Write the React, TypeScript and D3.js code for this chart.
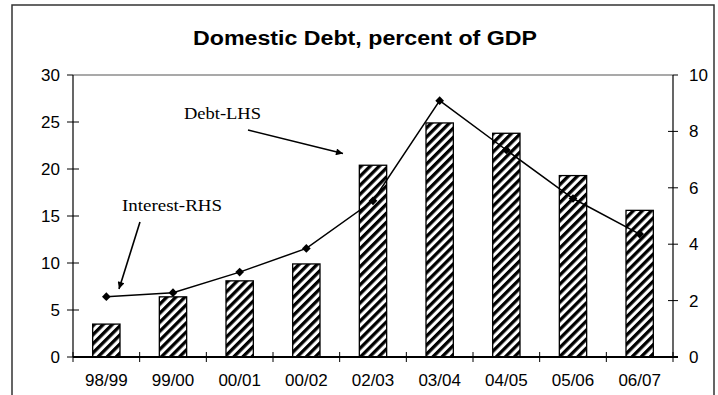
import React from 'react';
import * as d3 from 'd3';

const categories = ['98/99', '99/00', '00/01', '00/02', '02/03', '03/04', '04/05', '05/06', '06/07'];
const debtLHS = [3.5, 6.4, 8.1, 9.9, 20.4, 24.9, 23.8, 19.3, 15.6];
const interestRHS = [2.14, 2.28, 3.01, 3.85, 5.54, 9.09, 7.34, 5.62, 4.36];
const leftTicks = [0, 5, 10, 15, 20, 25, 30];
const rightTicks = [0, 2, 4, 6, 8, 10];
const title = 'Domestic Debt, percent of GDP';
const debtLabel = 'Debt-LHS';
const interestLabel = 'Interest-RHS';

const W = 718;
const H = 395;
const L = 73;
const R = 673;
const T = 75;
const B = 357;

export default function App() {
  const x = d3.scaleBand<string>().domain(categories).range([L, R]).padding(0);
  const yL = d3.scaleLinear().domain([0, 30]).range([B, T]);
  const yR = d3.scaleLinear().domain([0, 10]).range([B, T]);
  const barW = x.bandwidth() * 0.41;
  const cx = (c: string) => (x(c) as number) + x.bandwidth() / 2;

  const line = d3
    .line<number>()
    .x((_, i) => cx(categories[i]))
    .y((d) => yR(d));
  const marker = d3.symbol().type(d3.symbolSquare).size(38)() as string;

  const boundaries = categories.map((c) => x(c) as number).concat([R]);

  return (
    <svg
      width={W}
      height={H}
      style={{ position: 'absolute', left: 0, top: 0, background: '#fff' }}
      fontFamily="Liberation Sans, Arial, sans-serif"
    >
      <defs>
        <pattern
          id="hatch"
          patternUnits="userSpaceOnUse"
          width={6.4}
          height={6.4}
          patternTransform="rotate(45)"
        >
          <rect x={0} y={0} width={6.4} height={6.4} fill="#fff" />
          <rect x={0} y={0} width={3.3} height={6.4} fill="#000" />
        </pattern>
        <marker
          id="arrow"
          viewBox="0 0 10 10"
          refX={10}
          refY={5}
          markerWidth={9}
          markerHeight={7}
          markerUnits="userSpaceOnUse"
          orient="auto"
        >
          <path d="M0,0 L10,5 L0,10 z" fill="#000" />
        </marker>
      </defs>

      <rect x={0} y={0} width={W} height={H} fill="#fff" />
      {/* outer frame */}
      <path d={`M12,${H + 5} L12,5 L714,5 L714,${H + 5}`} fill="none" stroke="#333" strokeWidth={1.5} />

      <text
        x={365}
        y={45}
        textAnchor="middle"
        fontWeight="bold"
        fontSize={20}
        textLength={344}
        lengthAdjust="spacingAndGlyphs"
      >
        {title}
      </text>

      {/* plot area top border */}
      <line x1={L} x2={R} y1={T} y2={T} stroke="#555" strokeWidth={1.2} />

      {/* bars */}
      {categories.map((c, i) => (
        <rect
          key={c}
          x={cx(c) - barW / 2}
          y={yL(debtLHS[i])}
          width={barW}
          height={B - yL(debtLHS[i])}
          fill="url(#hatch)"
          stroke="#000"
          strokeWidth={1.3}
        />
      ))}

      {/* left axis */}
      <line x1={L} x2={L} y1={T} y2={B} stroke="#000" strokeWidth={1.2} />
      {leftTicks.map((t) => (
        <g key={'l' + t}>
          <line x1={L - 6} x2={t === 30 ? L : L + 6} y1={yL(t)} y2={yL(t)} stroke="#000" strokeWidth={1} />
          <text x={60} y={yL(t) + 6} textAnchor="end" fontSize={17}>
            {t}
          </text>
        </g>
      ))}

      {/* right axis */}
      <line x1={R} x2={R} y1={T} y2={B} stroke="#000" strokeWidth={1.2} />
      {rightTicks.map((t) => (
        <g key={'r' + t}>
          <line x1={t === 10 ? R : R - 5} x2={R + 5} y1={yR(t)} y2={yR(t)} stroke="#000" strokeWidth={1} />
          <text x={689} y={yR(t) + 6} textAnchor="start" fontSize={17}>
            {t}
          </text>
        </g>
      ))}

      {/* bottom axis */}
      <line x1={L} x2={R + 5} y1={B} y2={B} stroke="#000" strokeWidth={2} />
      {boundaries.map((b, i) => (
        <line key={'b' + i} x1={b} x2={b} y1={B - 5} y2={B + 5} stroke="#000" strokeWidth={1} />
      ))}
      {categories.map((c) => (
        <text key={'c' + c} x={cx(c)} y={386} textAnchor="middle" fontSize={17}>
          {c}
        </text>
      ))}

      {/* interest line */}
      <path d={line(interestRHS) as string} fill="none" stroke="#000" strokeWidth={1.5} />
      {interestRHS.map((v, i) => (
        <path
          key={'m' + i}
          d={marker}
          transform={`translate(${cx(categories[i])},${yR(v)}) rotate(45)`}
          fill="#000"
        />
      ))}

      {/* annotations */}
      <g fontFamily="Liberation Serif, Times New Roman, serif" fontSize={17}>
        <text x={184} y={119} textLength={77} lengthAdjust="spacingAndGlyphs">
          {debtLabel}
        </text>
        <text x={122} y={211} textLength={100} lengthAdjust="spacingAndGlyphs">
          {interestLabel}
        </text>
      </g>
      <line x1={248} y1={130} x2={343} y2={153.5} stroke="#000" strokeWidth={1.6} markerEnd="url(#arrow)" />
      <line x1={140} y1={222} x2={119} y2={289} stroke="#000" strokeWidth={1.6} markerEnd="url(#arrow)" />
    </svg>
  );
}
